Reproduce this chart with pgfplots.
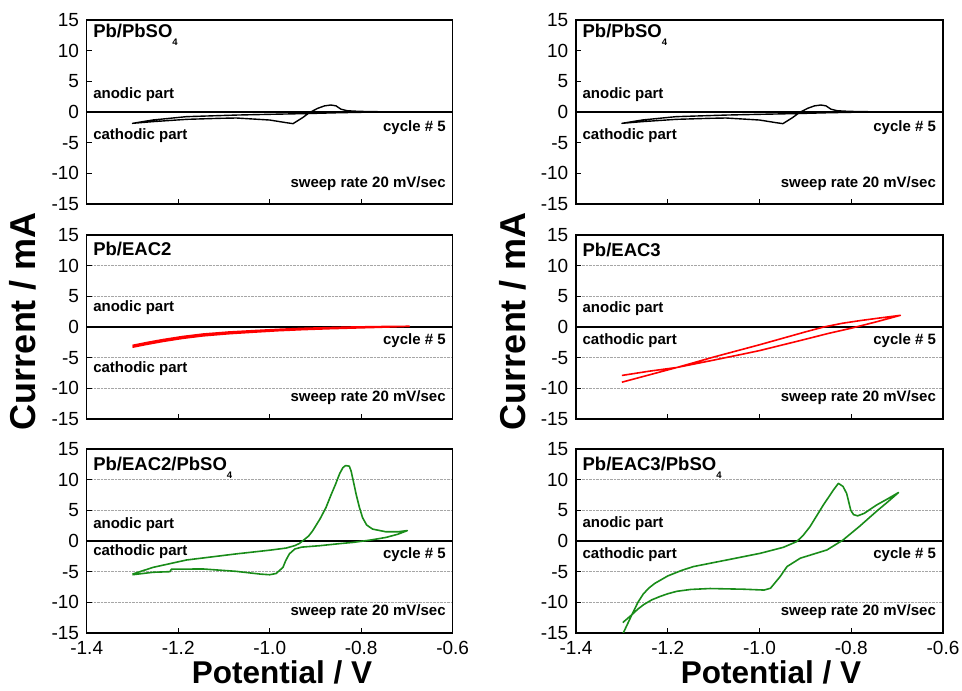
\documentclass[border=0pt]{standalone}
\usepackage{pgfplots}
\pgfplotsset{compat=1.18}
\usepackage{fontspec}
\setmainfont{Liberation Sans}
\definecolor{cvgreen}{RGB}{25,140,25}
\definecolor{cvred}{RGB}{255,0,0}

\pgfplotsset{
  cvpanel/.style={
    scale only axis, width=366pt, height=184pt,
    xmin=-1.4, xmax=-0.6, ymin=-15, ymax=15,
    xtick={-1.4,-1.2,-1.0,-0.8,-0.6},
    ytick={-15,-10,-5,0,5,10,15},
    yticklabels={-15,-10,-5,0,5,10,15},
    xticklabels={},
    tick align=inside, xtick pos=lower, ytick pos=left,
    major tick length=5pt,
    tick style={black, line width=1.2pt},
    axis line style={black, line width=1.5pt},
    ticklabel style={font=\fontsize{19}{22}\selectfont, inner sep=0pt},
    yticklabel style={xshift=-7.5pt},
    xticklabel style={yshift=-8.5pt},
    anchor=south west,
  },
  gridded/.style={ymajorgrids, grid style={densely dotted, black!35, line width=0.6pt}},
  bottomrow/.style={xticklabels={-1.4,-1.2,-1.0,-0.8,-0.6}},
}
\tikzset{
  ann/.style={font=\fontsize{15}{18}\selectfont\bfseries, inner sep=0pt},
  ttl/.style={font=\fontsize{18.5}{22}\selectfont\bfseries, inner sep=0pt, anchor=base west},
}
\newcommand{\subf}{\raisebox{-8pt}{\fontsize{9.5}{10}\selectfont 4}}

\pgfplotstableread{
x y
-0.70 0.0
-0.75 0.0
-0.80 -0.05
-0.85 -0.12
-0.90 -0.22
-0.928 -0.27
-1.0 -0.38
-1.073 -0.5
-1.182 -0.76
-1.255 -1.3
-1.30 -1.85
-1.255 -1.57
-1.182 -1.2
-1.109 -1.03
-1.073 -0.98
-1.0 -1.31
-0.964 -1.74
-0.949 -1.9
-0.928 -0.92
-0.913 -0.1
-0.895 0.6
-0.88 1.0
-0.866 1.14
-0.855 1.0
-0.844 0.45
-0.83 0.2
-0.804 0.1
-0.75 0.03
-0.70 0.0
}\pbso

\pgfplotstableread{
x y
-1.30 -3.0
-1.27 -2.55
-1.233 -2.05
-1.19 -1.55
-1.146 -1.15
-1.09 -0.82
-1.037 -0.6
-0.98 -0.38
-0.928 -0.22
-0.87 -0.1
-0.818 0.0
-0.76 0.07
-0.695 0.12
-0.76 -0.05
-0.818 -0.17
-0.87 -0.28
-0.928 -0.43
-0.98 -0.6
-1.037 -0.85
-1.09 -1.1
-1.146 -1.45
-1.19 -1.85
-1.233 -2.35
-1.27 -2.85
-1.30 -3.3
}\eactwo

\pgfplotstableread{
x y
-1.30 -5.4
-1.255 -4.3
-1.182 -3.1
-1.073 -2.1
-1.0 -1.5
-0.964 -1.15
-0.945 -0.75
-0.935 -0.4
-0.925 0.2
-0.915 0.8
-0.906 1.67
-0.89 3.6
-0.877 5.45
-0.866 7.5
-0.856 9.26
-0.847 11.0
-0.840 11.96
-0.834 12.3
-0.826 12.2
-0.822 11.4
-0.815 9.0
-0.811 7.6
-0.804 5.5
-0.797 3.8
-0.788 2.6
-0.775 1.94
-0.746 1.5
-0.72 1.5
-0.699 1.7
-0.72 1.1
-0.746 0.58
-0.78 0.15
-0.818 -0.23
-0.85 -0.45
-0.891 -0.77
-0.93 -1.0
-0.945 -1.3
-0.957 -2.1
-0.965 -3.2
-0.971 -4.3
-0.986 -5.3
-1.0 -5.5
-1.02 -5.4
-1.073 -4.95
-1.146 -4.56
-1.215 -4.6
-1.218 -5.0
-1.255 -5.1
-1.30 -5.5
}\eactwopb

\pgfplotstableread{
x y
-1.30 -7.9
-1.24 -7.2
-1.18 -6.6
-1.1 -5.4
-1.035 -4.4
-1.0 -3.85
-0.9 -2.0
-0.85 -1.05
-0.8 -0.2
-0.79 0.0
-0.75 0.75
-0.72 1.35
-0.693 1.9
-0.74 1.45
-0.78 1.05
-0.82 0.6
-0.86 0.0
-0.9 -0.8
-0.95 -1.85
-1.0 -2.9
-1.035 -3.6
-1.1 -4.9
-1.18 -6.6
-1.24 -7.8
-1.30 -9.0
}\eacthree

\pgfplotstableread{
x y
-1.30 -15.6
-1.297 -15.0
-1.278 -12.0
-1.265 -10.0
-1.253 -8.6
-1.24 -7.6
-1.228 -6.9
-1.2 -5.7
-1.17 -4.8
-1.144 -4.17
-1.071 -3.09
-0.998 -2.0
-0.948 -1.03
-0.919 -0.1
-0.905 0.9
-0.890 2.33
-0.861 5.85
-0.839 8.3
-0.828 9.4
-0.818 8.9
-0.810 7.75
-0.801 5.0
-0.795 4.3
-0.786 4.1
-0.772 4.5
-0.744 5.9
-0.72 6.9
-0.697 7.9
-0.72 6.4
-0.744 4.9
-0.781 2.45
-0.818 0.16
-0.853 -1.46
-0.911 -2.8
-0.940 -4.17
-0.955 -5.8
-0.976 -7.7
-0.990 -8.0
-1.035 -7.86
-1.108 -7.75
-1.15 -7.9
-1.180 -8.2
-1.2 -8.6
-1.217 -9.05
-1.235 -9.6
-1.253 -10.4
-1.265 -11.1
-1.278 -12.0
-1.298 -13.3
}\eacthreepb

\begin{document}
\begin{tikzpicture}
\path[use as bounding box] (0,0) rectangle (962pt,691pt);

% ---------- Row 1 left
\begin{axis}[cvpanel, at={(86.7pt,487pt)}]
\addplot[black, line width=1.5pt, forget plot] coordinates {(-1.4,0) (-0.6,0)};
\addplot[black, line width=1.4pt, line join=round] table[x=x,y=y] {\pbso};
\node[ttl] at (axis cs:-1.386,12.1) {Pb/PbSO\subf};
\node[ann, anchor=base west] at (axis cs:-1.386,2.2) {anodic part};
\node[ann, anchor=base west] at (axis cs:-1.386,-4.5) {cathodic part};
\node[ann, anchor=base east] at (axis cs:-0.615,-3.2) {cycle \# 5};
\node[ann, anchor=base east] at (axis cs:-0.615,-12.25) {sweep rate 20 mV/sec};
\end{axis}

% ---------- Row 1 right
\begin{axis}[cvpanel, at={(576pt,487pt)}, width=367pt]
\addplot[black, line width=1.5pt, forget plot] coordinates {(-1.4,0) (-0.6,0)};
\addplot[black, line width=1.4pt, line join=round] table[x=x,y=y] {\pbso};
\node[ttl] at (axis cs:-1.386,12.1) {Pb/PbSO\subf};
\node[ann, anchor=base west] at (axis cs:-1.386,2.2) {anodic part};
\node[ann, anchor=base west] at (axis cs:-1.386,-4.5) {cathodic part};
\node[ann, anchor=base east] at (axis cs:-0.615,-3.2) {cycle \# 5};
\node[ann, anchor=base east] at (axis cs:-0.615,-12.25) {sweep rate 20 mV/sec};
\end{axis}

% ---------- Row 2 left
\begin{axis}[cvpanel, gridded, at={(86.7pt,272pt)}]
\addplot[black, line width=1.5pt, forget plot] coordinates {(-1.4,0) (-0.6,0)};
\addplot[cvred, line width=1.6pt, line join=round] table[x=x,y=y] {\eactwo};
\node[ttl] at (axis cs:-1.386,11.7) {Pb/EAC2};
\node[ann, anchor=base west] at (axis cs:-1.386,2.55) {anodic part};
\node[ann, anchor=base west] at (axis cs:-1.386,-7.4) {cathodic part};
\node[ann, anchor=base east] at (axis cs:-0.615,-2.8) {cycle \# 5};
\node[ann, anchor=base east] at (axis cs:-0.615,-12.2) {sweep rate 20 mV/sec};
\end{axis}

% ---------- Row 2 right
\begin{axis}[cvpanel, gridded, at={(576pt,272pt)}, width=367pt]
\addplot[black, line width=1.5pt, forget plot] coordinates {(-1.4,0) (-0.6,0)};
\addplot[cvred, line width=1.6pt, line join=round] table[x=x,y=y] {\eacthree};
\node[ttl] at (axis cs:-1.386,11.5) {Pb/EAC3};
\node[ann, anchor=base west] at (axis cs:-1.386,2.4) {anodic part};
\node[ann, anchor=base west] at (axis cs:-1.386,-2.8) {cathodic part};
\node[ann, anchor=base east] at (axis cs:-0.615,-2.8) {cycle \# 5};
\node[ann, anchor=base east] at (axis cs:-0.615,-12.2) {sweep rate 20 mV/sec};
\end{axis}

% ---------- Row 3 left
\begin{axis}[cvpanel, gridded, bottomrow, at={(86.7pt,58pt)}]
\addplot[black, line width=1.5pt, forget plot] coordinates {(-1.4,0) (-0.6,0)};
\addplot[cvgreen, line width=1.6pt, line join=round] table[x=x,y=y] {\eactwopb};
\node[ttl] at (axis cs:-1.386,11.5) {Pb/EAC2/PbSO\subf};
\node[ann, anchor=base west] at (axis cs:-1.386,2.1) {anodic part};
\node[ann, anchor=base west] at (axis cs:-1.386,-2.4) {cathodic part};
\node[ann, anchor=base east] at (axis cs:-0.615,-2.9) {cycle \# 5};
\node[ann, anchor=base east] at (axis cs:-0.615,-12.15) {sweep rate 20 mV/sec};
\end{axis}

% ---------- Row 3 right
\begin{axis}[cvpanel, gridded, bottomrow, at={(576pt,58pt)}, width=367pt]
\addplot[black, line width=1.5pt, forget plot] coordinates {(-1.4,0) (-0.6,0)};
\addplot[cvgreen, line width=1.6pt, line join=round] table[x=x,y=y] {\eacthreepb};
\node[ttl] at (axis cs:-1.386,11.5) {Pb/EAC3/PbSO\subf};
\node[ann, anchor=base west] at (axis cs:-1.386,2.2) {anodic part};
\node[ann, anchor=base west] at (axis cs:-1.386,-2.8) {cathodic part};
\node[ann, anchor=base east] at (axis cs:-0.615,-2.8) {cycle \# 5};
\node[ann, anchor=base east] at (axis cs:-0.615,-12.2) {sweep rate 20 mV/sec};
\end{axis}

% ---------- axis titles
\node[font=\fontsize{36}{40}\selectfont\bfseries, rotate=90, inner sep=0pt] at (22.5pt,370pt) {Current / mA};
\node[font=\fontsize{36}{40}\selectfont\bfseries, rotate=90, inner sep=0pt] at (513pt,370pt) {Current / mA};
\node[font=\fontsize{31.5}{34}\selectfont\bfseries, anchor=base, inner sep=0pt] at (282pt,7pt) {Potential / V};
\node[font=\fontsize{31.5}{34}\selectfont\bfseries, anchor=base, inner sep=0pt] at (771pt,7pt) {Potential / V};
\end{tikzpicture}
\end{document}
